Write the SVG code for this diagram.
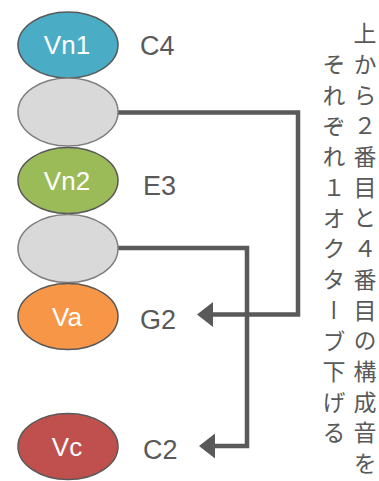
<svg xmlns="http://www.w3.org/2000/svg" width="379" height="481" viewBox="0 0 379 481">
<style>
.node ellipse{stroke-width:1.5}
.c{stroke:#595959}
.g{fill:#d9d9d9;stroke:#7f7f7f}
.nt{font-family:"Liberation Sans",Arial,sans-serif;font-size:26px;fill:#ffffff;text-anchor:middle}
.lb{font-family:"Liberation Sans",Arial,sans-serif;font-size:27px;fill:#595959}
.conn path{fill:none;stroke:#595959;stroke-width:4.5;stroke-linejoin:miter}
.vt{font-family:"Noto Sans CJK JP","Noto Sans CJK SC",sans-serif;font-size:23px;fill:#595959;writing-mode:vertical-rl;letter-spacing:7.7px}
.last{letter-spacing:0}
</style>
<g class="conn">
<path d="M118,112.5 H298 V314.5 H212"/>
<path d="M118,248 H247 V446 H215"/>
<polygon points="197,314.5 213,302 213,327" fill="#595959"/>
<polygon points="199,446 215,433.5 215,458.5" fill="#595959"/>
</g>
<g id="vn1" class="node"><ellipse cx="68" cy="45" rx="50" ry="33" fill="#4bacc6" class="c"/><text class="nt" x="67" y="54">Vn1</text></g>
<g id="gray1" class="node"><ellipse cx="68" cy="112" rx="50" ry="34" class="g"/></g>
<g id="vn2" class="node"><ellipse cx="68" cy="180.5" rx="50" ry="33" fill="#9bbb59" class="c"/><text class="nt" x="67" y="190">Vn2</text></g>
<g id="gray2" class="node"><ellipse cx="68" cy="248.5" rx="50" ry="34" class="g"/></g>
<g id="va" class="node"><ellipse cx="68" cy="316.5" rx="50" ry="33" fill="#f79646" class="c"/><text class="nt" x="67" y="326">Va</text></g>
<g id="vc" class="node"><ellipse cx="68" cy="446.5" rx="50" ry="33" fill="#c0504d" class="c"/><text class="nt" x="67" y="456">Vc</text></g>
<g id="labels">
<text class="lb" x="140" y="54.5">C4</text>
<text class="lb" x="143" y="194.5">E3</text>
<text class="lb" x="140" y="328.5">G2</text>
<text class="lb" x="143" y="458.5">C2</text>
</g>
<g id="caption">
<text class="vt" x="365" y="22">上から２番目と４番目の構成音<tspan class="last">を</tspan></text>
<text class="vt" x="334" y="53">それぞれ１オクターブ下げ<tspan class="last">る</tspan></text>
</g>
</svg>
